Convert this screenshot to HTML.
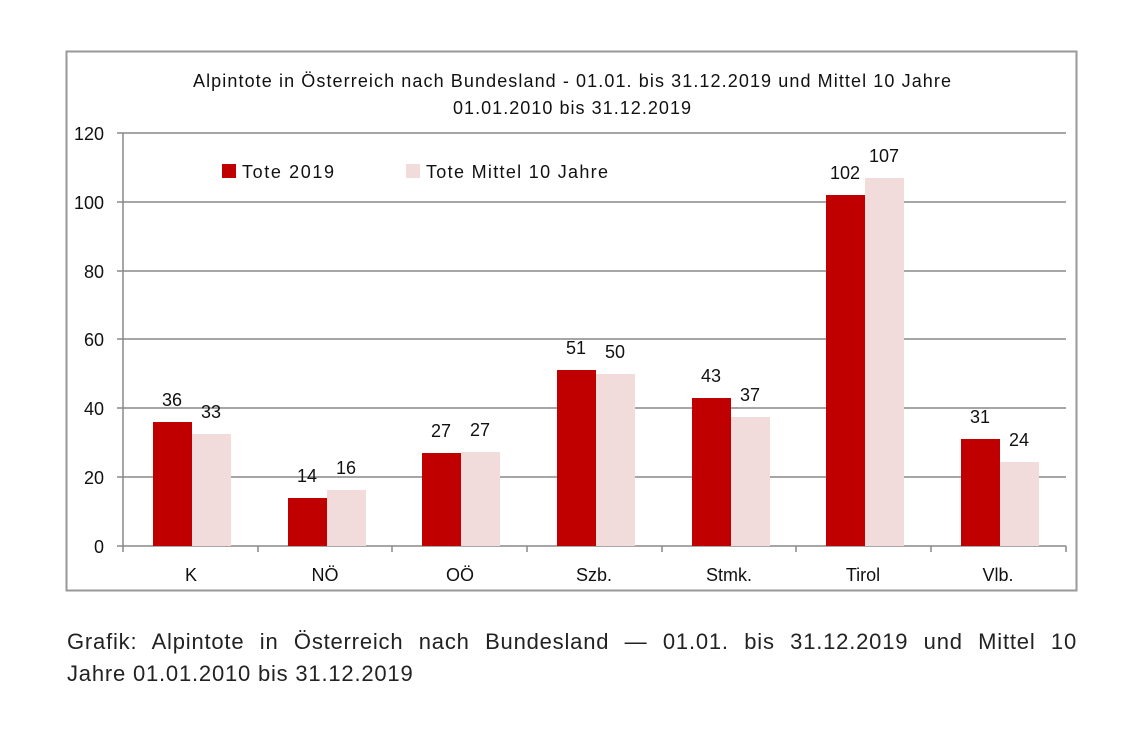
<!DOCTYPE html>
<html><head><meta charset="utf-8"><style>
body{margin:0;background:#fff;width:1134px;height:748px;overflow:hidden;font-family:"Liberation Sans",sans-serif}
.cap{position:absolute;left:67px;width:1010px;font-size:22px;line-height:32px;color:#222;letter-spacing:0.8px}
</style></head><body>
<svg width="1134" height="620" style="position:absolute;left:0;top:0" font-family="Liberation Sans, sans-serif">
<rect x="66.5" y="51.5" width="1010" height="539" fill="#fff" stroke="#999" stroke-width="2"/>
<text x="193" y="87" font-size="18" fill="#111" textLength="758" lengthAdjust="spacing">Alpintote in Österreich nach Bundesland - 01.01. bis 31.12.2019 und Mittel 10 Jahre</text>
<text x="453" y="114" font-size="18" fill="#111" textLength="238" lengthAdjust="spacing">01.01.2010 bis 31.12.2019</text>
<g stroke="#888" stroke-width="1.5">
<line x1="117" x2="1066" y1="133" y2="133"/>
<line x1="117" x2="1066" y1="202" y2="202"/>
<line x1="117" x2="1066" y1="271" y2="271"/>
<line x1="117" x2="1066" y1="339" y2="339"/>
<line x1="117" x2="1066" y1="408" y2="408"/>
<line x1="117" x2="1066" y1="477" y2="477"/>
<line x1="117" x2="1066" y1="546" y2="546"/>
<line x1="123" x2="123" y1="133" y2="552"/>
<line x1="258" x2="258" y1="546" y2="552"/><line x1="392" x2="392" y1="546" y2="552"/><line x1="527" x2="527" y1="546" y2="552"/><line x1="662" x2="662" y1="546" y2="552"/><line x1="796" x2="796" y1="546" y2="552"/><line x1="931" x2="931" y1="546" y2="552"/><line x1="1066" x2="1066" y1="546" y2="552"/>
</g>
<g font-size="18" text-anchor="end" fill="#111">
<text x="104" y="140">120</text><text x="104" y="209">100</text><text x="104" y="278">80</text><text x="104" y="346">60</text><text x="104" y="415">40</text><text x="104" y="484">20</text><text x="104" y="553">0</text>
</g>
<g fill="#c00000">
<rect x="153" y="422" width="39" height="124"/>
<rect x="288" y="498" width="39" height="48"/>
<rect x="422" y="453" width="39" height="93"/>
<rect x="557" y="370" width="39" height="176"/>
<rect x="692" y="398" width="39" height="148"/>
<rect x="826" y="195" width="39" height="351"/>
<rect x="961" y="439" width="39" height="107"/>
</g>
<g fill="#f2dcdb">
<rect x="192" y="434" width="39" height="112"/>
<rect x="327" y="490" width="39" height="56"/>
<rect x="461" y="452" width="39" height="94"/>
<rect x="596" y="374" width="39" height="172"/>
<rect x="731" y="417" width="39" height="129"/>
<rect x="865" y="178" width="39" height="368"/>
<rect x="1000" y="462" width="39" height="84"/>
</g>
<g font-size="18" text-anchor="middle" fill="#111">
<text x="172" y="406">36</text><text x="211" y="418">33</text>
<text x="307" y="482">14</text><text x="346" y="474">16</text>
<text x="441" y="437">27</text><text x="480" y="436">27</text>
<text x="576" y="354">51</text><text x="615" y="358">50</text>
<text x="711" y="382">43</text><text x="750" y="401">37</text>
<text x="845" y="179">102</text><text x="884" y="162">107</text>
<text x="980" y="423">31</text><text x="1019" y="446">24</text>
</g>
<g font-size="18" text-anchor="middle" fill="#111">
<text x="191" y="581">K</text><text x="325" y="581">NÖ</text><text x="460" y="581">OÖ</text><text x="594" y="581">Szb.</text><text x="729" y="581">Stmk.</text><text x="863" y="581">Tirol</text><text x="998" y="581">Vlb.</text>
</g>
<rect x="222" y="164" width="14" height="14" fill="#c00000"/>
<text x="242" y="178" font-size="18" fill="#111" textLength="92" lengthAdjust="spacing">Tote 2019</text>
<rect x="406" y="164" width="14" height="14" fill="#f2dcdb"/>
<text x="426" y="178" font-size="18" fill="#111" textLength="182" lengthAdjust="spacing">Tote Mittel 10 Jahre</text>
</svg>
<div class="cap" style="top:626px;text-align:justify;text-align-last:justify">Grafik: Alpintote in Österreich nach Bundesland — 01.01. bis 31.12.2019 und Mittel 10</div>
<div class="cap" style="top:658px">Jahre 01.01.2010 bis 31.12.2019</div>
</body></html>
